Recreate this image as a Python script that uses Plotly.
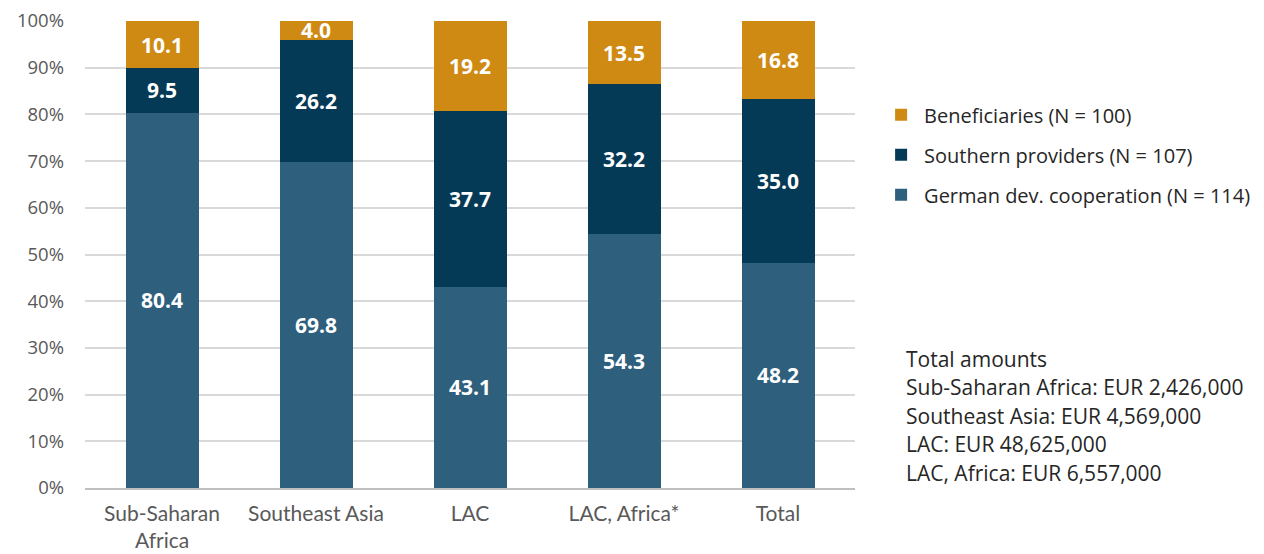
import plotly.graph_objects as go

categories = ["Sub-Saharan<br>Africa", "Southeast Asia", "LAC", "LAC, Africa*", "Total"]
german = [80.4, 69.8, 43.1, 54.3, 48.2]
southern = [9.5, 26.2, 37.7, 32.2, 35.0]
beneficiaries = [10.1, 4.0, 19.2, 13.5, 16.8]
y_ticks = [0, 10, 20, 30, 40, 50, 60, 70, 80, 90, 100]
y_tick_labels = [f"{v}%" for v in y_ticks]

series = [
    ("German dev. cooperation (N = 114)", german, "#2E5F7D", 3),
    ("Southern providers (N = 107)", southern, "#053A57", 2),
    ("Beneficiaries (N = 100)", beneficiaries, "#CF8A14", 1),
]

totals_lines = [
    "Total amounts",
    "Sub-Saharan Africa: EUR 2,426,000",
    "Southeast Asia: EUR 4,569,000",
    "LAC: EUR 48,625,000",
    "LAC, Africa: EUR 6,557,000",
]

fig = go.Figure()
for name, vals, color, rank in series:
    fig.add_trace(go.Bar(
        x=categories, y=vals, name=name, legendgroup=name, legendrank=rank,
        marker=dict(color=color, line=dict(width=0)),
        texttemplate="%{y:.1f}", textposition="inside", insidetextanchor="middle",
        textfont=dict(color="white", size=21, family="Open Sans", weight="bold"),
        constraintext="none", hoverinfo="skip",
    ))

annotations = []
for i, line in enumerate(totals_lines):
    annotations.append(dict(
        xref="paper", yref="paper", x=1.063, y=0.277 - i * 0.0612,
        xanchor="left", yanchor="middle",
        text=line, showarrow=False, align="left",
        font=dict(size=21, color="#262626", family="Open Sans"),
    ))

fig.update_layout(
    barmode="stack", bargap=0.526,
    width=1264, height=554,
    margin=dict(l=77, r=417, t=13, b=74),
    plot_bgcolor="white", paper_bgcolor="white",
    font=dict(family="Lato", color="#595959"),
    uniformtext=dict(minsize=20, mode="show"),
    legend=dict(
        x=1.03, y=0.841, xanchor="left", yanchor="top",
        traceorder="grouped", tracegroupgap=11,
        font=dict(size=20, color="#262626", family="Open Sans"),
        itemwidth=36, borderwidth=0,
    ),
    xaxis=dict(
        showline=True, linecolor="#BFBFBF", linewidth=1.5,
        tickfont=dict(size=21, color="#595959", family="Lato"), ticks="",
        ticklabelstandoff=6, automargin=False,
    ),
    yaxis=dict(
        range=[0, 100], tickmode="array", tickvals=y_ticks, ticktext=y_tick_labels,
        showgrid=True, gridcolor="#D9D9D9", gridwidth=1.5,
        zeroline=False, showline=False, ticklabeloverflow="allow", automargin=False,
        tickfont=dict(size=18.5, color="#595959", family="Open Sans"), ticklabelstandoff=20,
    ),
    annotations=annotations,
)

fig.write_html("out.html")
